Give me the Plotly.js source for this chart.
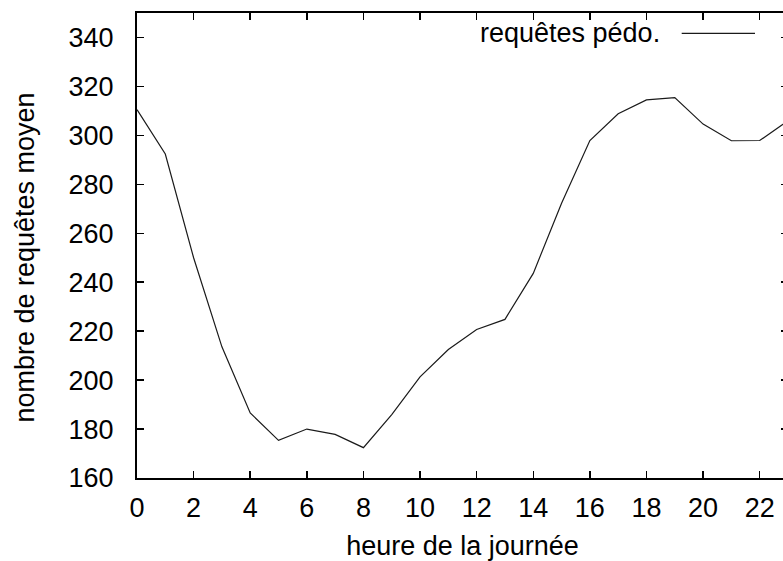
<!DOCTYPE html>
<html>
<head>
<meta charset="utf-8">
<script src="https://cdn.plot.ly/plotly-3.0.1.min.js"></script>
<style>
html, body { margin: 0; padding: 0; overflow: hidden; background: #fff; }
#chart { width: 790px; height: 561px; }
</style>
</head>
<body>
<div id="chart"></div>
<script>
const hours = [0,1,2,3,4,5,6,7,8,9,10,11,12,13,14,15,16,17,18,19,20,21,22,23];
const requetes = [310.5,292.4,250,213.6,186.6,175.4,180,177.8,172.4,185.9,201.3,212.5,220.7,224.8,243.6,272.3,297.9,308.8,314.5,315.4,304.6,297.8,297.9,306];
const xTicks = [0,2,4,6,8,10,12,14,16,18,20,22];
const yTicks = [160,180,200,220,240,260,280,300,320,340];
const seriesName = 'requêtes pédo.';
const xTitle = 'heure de la journée';
const yTitle = 'nombre de requêtes moyen';

const font = {family: '"Liberation Sans", Arial, Helvetica, sans-serif', size: 27, color: '#000'};

const trace = {
  x: hours, y: requetes, type: 'scatter', mode: 'lines',
  name: seriesName,
  line: {color: '#1a1a1a', width: 1.2},
  showlegend: false
};

const layout = {
  width: 790, height: 561,
  margin: {l: 137, r: 2, t: 13, b: 83},
  paper_bgcolor: '#fff', plot_bgcolor: '#fff',
  font: font,
  xaxis: {
    range: [0, 23], tickvals: xTicks, ticktext: xTicks.map(String),
    ticks: 'inside', ticklen: 7, tickwidth: 1.5, tickcolor: '#000',
    showline: true, linewidth: 2, linecolor: '#000', mirror: 'ticks',
    showgrid: false, zeroline: false,
    ticklabelstandoff: 5,
    tickfont: font,
    title: {text: xTitle, font: font, standoff: 15}
  },
  yaxis: {
    range: [160, 350], tickvals: yTicks, ticktext: yTicks.map(String),
    ticks: 'inside', ticklen: 7, tickwidth: 1.5, tickcolor: '#000',
    showline: true, linewidth: 2, linecolor: '#000', mirror: 'ticks',
    showgrid: false, zeroline: false,
    ticklabelstandoff: 16,
    tickfont: font
  },
  annotations: [{
    xref: 'paper', yref: 'paper', x: 0.806, y: 0.956,
    xanchor: 'right', yanchor: 'middle', showarrow: false,
    text: seriesName, font: font
  }, {
    xref: 'paper', yref: 'paper', x: -0.172, y: 0.474,
    xanchor: 'center', yanchor: 'middle', showarrow: false,
    textangle: -90, text: yTitle, font: font
  }],
  shapes: [{
    type: 'line', xref: 'paper', yref: 'paper',
    x0: 0.8367, x1: 0.9493, y0: 0.9563, y1: 0.9563,
    line: {color: '#1a1a1a', width: 1.2}
  }]
};

Plotly.newPlot('chart', [trace], layout, {displayModeBar: false, staticPlot: true});
</script>
</body>
</html>
